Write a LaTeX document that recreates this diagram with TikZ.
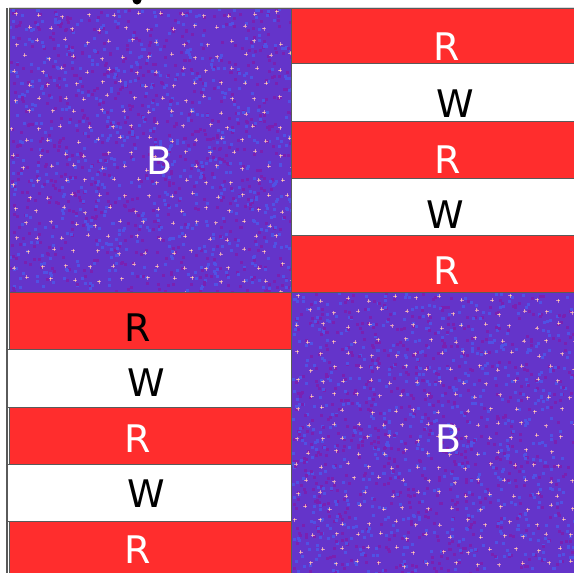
\documentclass[tikz,border=0pt]{standalone}
\usepackage{fontspec}
\setmainfont{DejaVu Sans}
\usetikzlibrary{positioning}

\definecolor{flagred}{RGB}{255,45,45}
\definecolor{starblue}{RGB}{100,52,202}
\definecolor{noiseblue}{RGB}{80,82,228}
\definecolor{noisepurple}{RGB}{122,32,178}
\definecolor{sparkpink}{RGB}{230,150,200}
\definecolor{sparkcore}{RGB}{255,225,160}
\definecolor{edgegray}{RGB}{90,90,90}

\begin{document}
\begin{tikzpicture}[
  x=1pt, y=-1pt,
  redband/.style={fill=flagred, draw=edgegray, line width=0.8pt},
  whiteband/.style={fill=white, draw=edgegray, line width=0.8pt},
  letter/.style={anchor=base, inner sep=0pt, font=\fontsize{38}{40}\selectfont},
  light/.style={letter, text=white},
  dark/.style={letter, text=black}
]
\useasboundingbox (0,0) rectangle (574,573);

% thin frame lines
\draw[gray!30, line width=1pt] (9,7) -- (574,7);
\draw[edgegray, line width=1.2pt] (7,8) -- (7,573);
\fill[black] (137,0) circle (4.5);

% starry blocks
\pgfmathsetseed{11}
\foreach \bx/\by in {9/8, 291/292}{
  \begin{scope}
    \clip (\bx,\by) rectangle ++(283,284);
    \fill[starblue] (\bx,\by) rectangle ++(283,284);
    \foreach \k in {1,...,700}{
      \pgfmathsetmacro{\nx}{\bx+283*rnd}
      \pgfmathsetmacro{\ny}{\by+284*rnd}
      \fill[noiseblue] (\nx,\ny) rectangle ++(3,3);
      \pgfmathsetmacro{\mx}{\bx+283*rnd}
      \pgfmathsetmacro{\my}{\by+284*rnd}
      \fill[noisepurple] (\mx,\my) rectangle ++(3,3);
    }
    \foreach \r in {0,...,20}{
      \foreach \c in {0,...,12}{
        \pgfmathsetmacro{\sx}{\bx+6+24*\c+12*mod(\r,2)+4*rand}
        \pgfmathsetmacro{\sy}{\by+6+14*\r+3*rand}
        \draw[sparkpink, line width=0.9pt, opacity=0.8] (\sx-2,\sy) -- (\sx+2,\sy)
          (\sx,\sy-2) -- (\sx,\sy+2);
        \fill[sparkcore] (\sx,\sy) circle (0.8);
      }
    }
  \end{scope}
  \draw[edgegray, line width=0.8pt] (\bx,\by) rectangle ++(283,284);
}

% top-right stripes
\draw[redband]   (291,8)   rectangle (574,63);
\draw[whiteband] (291,63)  rectangle (574,121);
\draw[redband]   (291,121) rectangle (574,178);
\draw[whiteband] (291,178) rectangle (574,235);
\draw[redband]   (291,235) rectangle (574,292);

% bottom-left stripes
\draw[redband]   (9,292) rectangle (291,349);
\draw[whiteband] (7,349) rectangle (291,407);
\draw[redband]   (9,407) rectangle (291,464);
\draw[whiteband] (7,464) rectangle (291,521);
\draw[redband]   (9,521) rectangle (291,575);

% letters
\node[light] (blueA) at (160,174) {B};
\node[light] (blueB) at (449,452) {B};

\node[light] (trR1) at (447,60)  {R};
\node[dark]  (trW1) at (455,117) {W};
\node[light] (trR2) at (448,173) {R};
\node[dark]  (trW2) at (445,228) {W};
\node[light] (trR3) at (447,284) {R};

\node[dark]  (blR1) at (138,341) {R};
\node[dark]  (blW1) at (146,396) {W};
\node[light] (blR2) at (138,452) {R};
\node[dark]  (blW2) at (146,507) {W};
\node[light] (blR3) at (138,563) {R};
\end{tikzpicture}
\end{document}
